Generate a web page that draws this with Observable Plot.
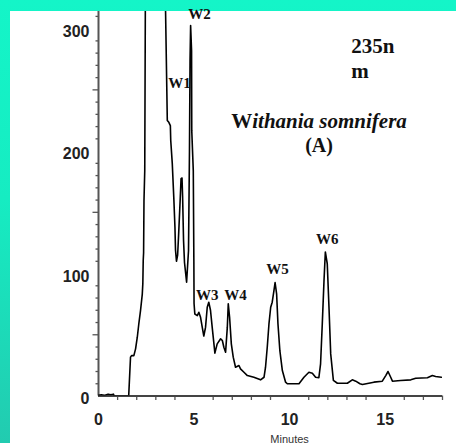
<!DOCTYPE html>
<html>
<head>
<meta charset="utf-8">
<script src="https://cdn.jsdelivr.net/npm/d3@7"></script>
<script src="https://cdn.jsdelivr.net/npm/@observablehq/plot@0.6"></script>
<style>
  html, body { margin: 0; padding: 0; }
  body {
    width: 456px; height: 443px; overflow: hidden; position: relative;
    background: linear-gradient(to bottom, #14f5c8 0%, #16ecc2 45%, #22cbb0 100%);
  }
  #panel {
    position: absolute; left: 10px; top: 11px; width: 446px; height: 432px;
    background: #fff; overflow: visible;
  }
  #panel svg { display: block; overflow: visible; }
</style>
</head>
<body>
<div id="panel"></div>
<script>
// HPLC trace at 235 nm: retention time (min) and detector response
const minutes = [0, 0.15, 0.3, 0.5, 0.65, 0.78, 0.82, 1.58, 1.675, 1.73, 1.85, 1.94, 2.03, 2.11, 2.2, 2.29, 2.32, 2.34, 2.36, 2.38, 2.42, 2.45, 2.47, 3.0, 3.49, 3.51, 3.6, 3.68, 3.76, 3.78, 3.86, 3.94, 4.0, 4.03, 4.08, 4.14, 4.19, 4.27, 4.32, 4.37, 4.4, 4.45, 4.5, 4.61, 4.71, 4.76, 4.79, 4.82, 4.87, 4.88, 4.96, 4.99, 5.0, 5.04, 5.17, 5.25, 5.34, 5.43, 5.51, 5.6, 5.69, 5.77, 5.86, 5.95, 6.04, 6.09, 6.21, 6.39, 6.48, 6.56, 6.65, 6.74, 6.79, 6.86, 6.95, 7.05, 7.17, 7.35, 7.43, 7.61, 7.79, 8.13, 8.48, 8.66, 8.74, 8.83, 8.92, 9.01, 9.09, 9.18, 9.24, 9.32, 9.39, 9.49, 9.62, 9.79, 9.88, 10.49, 10.75, 11.01, 11.19, 11.36, 11.53, 11.62, 11.71, 11.8, 11.87, 11.97, 12.06, 12.15, 12.29, 12.5, 13.02, 13.28, 13.46, 13.68, 13.81, 14.41, 14.85, 15.03, 15.15, 15.29, 15.38, 15.81, 16.34, 16.6, 17.21, 17.47, 17.64, 17.94];
const response = [0.5, 1, 0.5, 1.5, 1, 1.5, 0, 0, 31.7, 33, 33, 38.5, 48, 59, 70, 83, 92, 110.6, 117, 159.6, 184, 314, 330, 420, 330, 313.3, 225, 223.5, 220.8, 208.6, 190, 162, 138, 119, 110, 115, 131, 159, 177.5, 178, 163.5, 127, 109, 93, 118.6, 200, 274, 302.5, 282, 216.7, 184, 110.6, 75.5, 67, 65.7, 68.4, 64.3, 56, 49, 56, 72.5, 76.6, 70, 56, 42.6, 35, 42.6, 46.7, 45.3, 39.8, 35.8, 56, 75.3, 64.3, 42.6, 31.7, 23.5, 24.9, 22.2, 19.4, 16.7, 15.3, 13.2, 15.3, 23.5, 39.8, 59, 72.5, 76.6, 86, 92.7, 83.4, 59, 37, 20.8, 11.3, 10, 10, 15.3, 19.4, 18.6, 15.3, 14.9, 26.3, 59, 94.3, 117.6, 108, 72.5, 34.4, 12.7, 10.4, 10.4, 13.2, 12.1, 10, 9.4, 11.3, 12.1, 16.7, 20, 15.3, 12.1, 12.7, 13.2, 14.5, 14.9, 16.7, 15.9, 15.3];

// Peak annotations (withanolide peaks W1–W6)
const peakNames = ["W1", "W2", "W3", "W4", "W5", "W6"];
const peakLabelMinutes = [4.24, 5.29, 5.69, 7.17, 9.37, 11.97];
const peakLabelLevel = [251.8, 307.9, 78.5, 78.5, 99.8, 123.9];

// Axis ticks
const xTickLabels = [0, 5, 10, 15];
const yTickLabels = [0, 100, 200, 300];
const xMinorTicks = d3.range(1, 19).filter(d => d % 5 !== 0);
const yMinorTicks = d3.range(10, 311, 10).filter(d => d % 50 !== 0);
const yMidTicks = [50, 150, 250];

const trace = minutes.map((m, i) => ({minute: m, value: response[i]}));
const peaks = peakNames.map((name, i) => ({name, minute: peakLabelMinutes[i], level: peakLabelLevel[i]}));

const sans = "'Liberation Sans', Arial, sans-serif";
const serif = "'Liberation Serif', 'Times New Roman', serif";
const blank = () => "";

const chart = Plot.plot({
  width: 446,
  height: 432,
  marginLeft: 88,
  marginRight: 14,
  marginTop: 0,
  marginBottom: 47.5,
  x: {domain: [0, 18]},
  y: {domain: [0, 314]},
  style: {background: "#fff", color: "#222", fontFamily: sans, overflow: "visible"},
  marks: [
    // minor and mid ticks on the y axis
    Plot.axisY(yMinorTicks, {tickSize: 2.5, stroke: "#555", strokeWidth: 1.3, tickFormat: blank, label: null}),
    Plot.axisY(yMidTicks, {tickSize: 5.5, stroke: "#555", strokeWidth: 1.3, tickFormat: blank, label: null}),
    Plot.axisY(yTickLabels, {tickSize: 0, tickPadding: 9, fontSize: 16, fontWeight: "bold", fill: "#222", dy: 3, label: null}),
    // minute ticks on the x axis
    Plot.axisX(xMinorTicks, {tickSize: 4.5, stroke: "#555", strokeWidth: 1.3, tickFormat: blank, label: null}),
    Plot.axisX(xTickLabels, {tickSize: 0, tickPadding: 17.6, fontSize: 16, fontWeight: "bold", fill: "#222", label: null}),
    Plot.ruleX([0], {stroke: "#555", strokeWidth: 2}),
    Plot.ruleY([0], {stroke: "#444", strokeWidth: 2}),
    Plot.line(trace, {x: "minute", y: "value", stroke: "#000", strokeWidth: 1.6, clip: true}),
    Plot.text(peaks, {x: "minute", y: "level", text: "name", lineAnchor: "bottom", fontFamily: serif, fontWeight: "bold", fontSize: 15, fill: "#111"}),
    Plot.text(["235n\nm"], {x: 13.23, y: 260, text: d => d, textAnchor: "start", lineAnchor: "bottom", lineHeight: 1.19, fontFamily: serif, fontWeight: "bold", fontSize: 21, fill: "#111"}),
    Plot.text(["Withania somnifera"], {x: 11.54, y: 219.2, text: d => d, lineAnchor: "bottom", fontFamily: serif, fontWeight: "bold", fontStyle: "italic", fontSize: 21, fill: "#111"}),
    Plot.text(["(A)"], {x: 11.54, y: 199, text: d => d, lineAnchor: "bottom", fontFamily: serif, fontWeight: "bold", fontSize: 20, fill: "#111"}),
    Plot.text(["Minutes"], {x: 10, y: 0, text: d => d, lineAnchor: "bottom", dy: 46.5, fontFamily: sans, fontSize: 11, fill: "#333"})
  ]
});

// Genus initial set upright, rest of the species name in italics
for (const t of chart.querySelectorAll("text")) {
  if (t.textContent === "Withania somnifera") {
    t.textContent = "";
    const cap = document.createElementNS("http://www.w3.org/2000/svg", "tspan");
    cap.setAttribute("font-style", "normal");
    cap.textContent = "W";
    t.appendChild(cap);
    t.appendChild(document.createTextNode("ithania somnifera"));
  }
}

document.getElementById("panel").appendChild(chart);
</script>
</body>
</html>
